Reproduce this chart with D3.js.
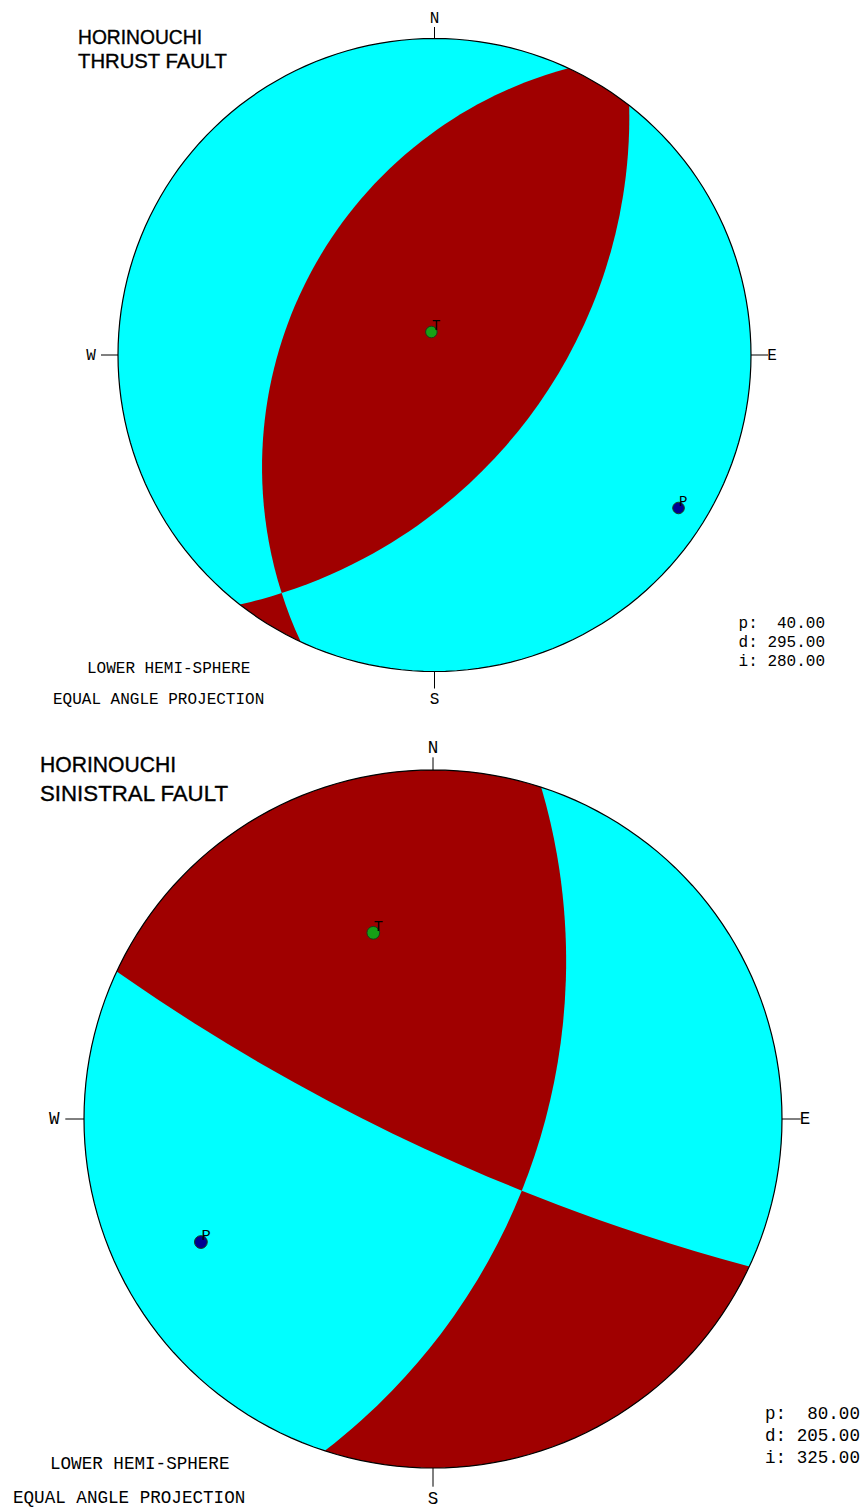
<!DOCTYPE html>
<html>
<head>
<meta charset="utf-8">
<script src="https://cdn.jsdelivr.net/npm/d3@7"></script>
<style>
  html, body { margin: 0; padding: 0; background: #fff; }
  svg { display: block; }
  .mono { font-family: "Liberation Mono", "DejaVu Sans Mono", monospace; white-space: pre; }
  .title { font-family: "Liberation Sans", Arial, sans-serif; }
</style>
</head>
<body>
<svg id="chart" width="864" height="1509"></svg>
<script>
// data
const titles = [["HORINOUCHI", "THRUST FAULT"], ["HORINOUCHI", "SINISTRAL FAULT"]];
const dips = [40, 80];          // p
const dipDirs = [295, 205];     // d
const rakes = [280, 325];       // i
const compass = ["N", "E", "S", "W"];
const footer = ["LOWER HEMI-SPHERE", "EQUAL ANGLE PROJECTION"];

// layout
const panels = [
  {cx: 434.5, cy: 355, R: 316.5, k: 1, titleX: 78, titleY: [44, 68], titleSize: 19.5, titleW: [124, 149], mono: 16,
   footX: [87, 53], footY: [673, 704], infoX: 825, infoY: [628, 647, 666]},
  {cx: 433, cy: 1119, R: 349, k: 1.1, titleX: 40, titleY: [772, 801], titleSize: 21.3, titleW: [136, 188], mono: 17.6,
   footX: [50, 13], footY: [1469, 1503], infoX: 860, infoY: [1419, 1441, 1463]}
];

const RED = "#a00000", CYAN = "#00ffff";
const rad = Math.PI / 180;
const svg = d3.select("#chart");

// vector helpers (E, N, Up)
const add = (a, b) => a.map((v, i) => v + b[i]);
const neg = a => a.map(v => -v);
const norm = a => { const l = Math.hypot(...a); return a.map(v => v / l); };
const cross = (a, b) => [a[1]*b[2]-a[2]*b[1], a[2]*b[0]-a[0]*b[2], a[0]*b[1]-a[1]*b[0]];
// direction -> lon/lat, projection centred on the nadir
const toGeo = v => [Math.atan2(v[0], -v[2]) / rad, Math.asin(Math.max(-1, Math.min(1, v[1]))) / rad];

panels.forEach((P, idx) => {
  const g = svg.append("g");
  const k = P.k;
  const proj = d3.geoStereographic()
    .scale(P.R).translate([P.cx, P.cy]).rotate([0, 0]).clipAngle(90).precision(0.1);
  const path = d3.geoPath(proj);

  // fault plane: normal + slip vector
  const dd = dipDirs[idx] * rad, dp = dips[idx] * rad, rk = rakes[idx] * rad;
  const n = [Math.sin(dp)*Math.sin(dd), Math.sin(dp)*Math.cos(dd), Math.cos(dp)];
  const st = [Math.sin(dd - Math.PI/2), Math.cos(dd - Math.PI/2), 0];
  const dn = [Math.cos(dp)*Math.sin(dd), Math.cos(dp)*Math.cos(dd), -Math.sin(dp)];
  const s = norm(add(st.map(v => v*Math.cos(rk)), dn.map(v => v*Math.sin(rk))));
  const b = norm(cross(n, s));

  // tension lunes
  function lune(a1, a2, nb) {
    const pts = [nb, norm(add(nb, a1)), a1, norm(add(a1, neg(nb))), neg(nb),
                 norm(add(neg(nb), a2)), a2, norm(add(a2, nb)), nb].map(toGeo);
    let poly = {type: "Polygon", coordinates: [pts]};
    if (d3.geoArea(poly) > 2 * Math.PI) poly = {type: "Polygon", coordinates: [pts.slice().reverse()]};
    return poly;
  }
  const lunes = [lune(s, n, b), lune(neg(s), neg(n), b)];

  g.append("path").datum({type: "Sphere"}).attr("d", path).attr("fill", CYAN);
  g.selectAll("path.lune").data(lunes).join("path")
    .attr("class", "lune").attr("d", path).attr("fill", RED);
  g.append("path").datum({type: "Sphere"}).attr("d", path)
    .attr("fill", "none").attr("stroke", "#000").attr("stroke-width", 1.2);

  // P and T axes (lower hemisphere)
  const lower = v => v[2] > 0 ? neg(v) : v;
  const axes = [
    {name: "T", v: lower(norm(add(n, s))), fill: "#16a016"},
    {name: "P", v: lower(norm(add(n, neg(s)))), fill: "#000090"}
  ];
  axes.forEach(a => {
    const [x, y] = proj(toGeo(a.v));
    g.append("circle").attr("cx", x).attr("cy", y).attr("r", 5.8 * k)
      .attr("fill", a.fill).attr("stroke", "#1a3a1a").attr("stroke-width", 1);
    g.append("text").attr("class", "mono").attr("x", x + 0.5 * k).attr("y", y - 1.5 * k)
      .attr("font-size", 14 * k).attr("fill", "#000").text(a.name);
  });

  // compass ticks and letters
  const tickLen = [11.5, 17, 17, 17];
  const labelOff = [20, 21, 28, 27];
  compass.forEach((c, i) => {
    const az = i * 90 * rad;
    const ux = Math.sin(az), uy = -Math.cos(az);
    g.append("line")
      .attr("x1", P.cx + ux * P.R).attr("y1", P.cy + uy * P.R)
      .attr("x2", P.cx + ux * (P.R + tickLen[i] * k)).attr("y2", P.cy + uy * (P.R + tickLen[i] * k))
      .attr("stroke", "#000").attr("stroke-width", 1);
    g.append("text").attr("class", "mono")
      .attr("x", P.cx + ux * (P.R + labelOff[i] * k))
      .attr("y", P.cy + uy * (P.R + labelOff[i] * k) + 4.5 * k)
      .attr("text-anchor", "middle").attr("font-size", P.mono).text(c);
  });

  // title
  titles[idx].forEach((t, j) => {
    g.append("text").attr("class", "title").attr("x", P.titleX).attr("y", P.titleY[j])
      .attr("font-size", P.titleSize).attr("fill", "#000")
      .attr("stroke", "#000").attr("stroke-width", 0.35)
      .attr("textLength", P.titleW[j]).attr("lengthAdjust", "spacingAndGlyphs").text(t);
  });

  // footer
  footer.forEach((t, j) => {
    g.append("text").attr("class", "mono").attr("x", P.footX[j]).attr("y", P.footY[j])
      .attr("font-size", P.mono).text(t);
  });

  // p / d / i values
  const fmt = d3.format("6.2f");
  [["p", dips[idx]], ["d", dipDirs[idx]], ["i", rakes[idx]]].forEach(([lab, v], j) => {
    g.append("text").attr("class", "mono").attr("x", P.infoX).attr("y", P.infoY[j])
      .attr("text-anchor", "end").attr("font-size", P.mono).text(`${lab}: ${fmt(v)}`);
  });
});
</script>
</body>
</html>
